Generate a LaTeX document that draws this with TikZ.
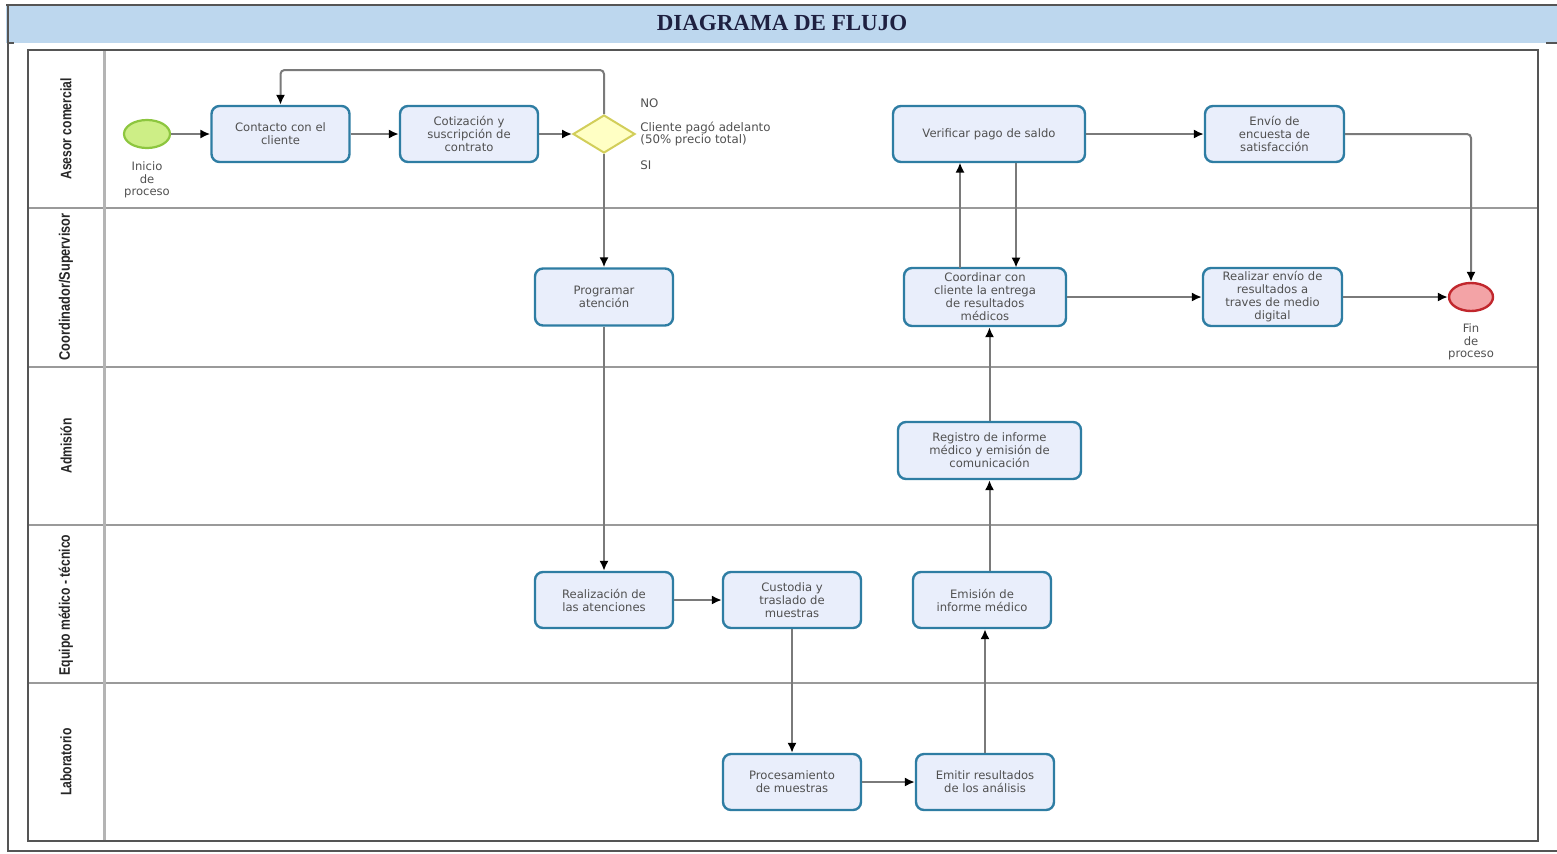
\documentclass[tikz,border=0pt]{standalone}
\usepackage{fontspec}
\usepackage{graphicx}
\setmainfont{DejaVu Sans}
\newfontfamily\titlefont{Liberation Serif}
\newfontfamily\lanefont{Liberation Sans}
\usetikzlibrary{shapes.geometric,arrows.meta,calc}
\definecolor{boxfill}{HTML}{E9EEFB}
\definecolor{boxline}{HTML}{2E7DA3}
\definecolor{bandblue}{HTML}{BDD7EE}
\definecolor{framegray}{HTML}{555555}
\definecolor{lanegray}{HTML}{9A9A9A}
\definecolor{colgray}{HTML}{B4B4B4}
\definecolor{linegray}{HTML}{7A7A7A}
\definecolor{txtgray}{HTML}{505050}
\definecolor{startfill}{HTML}{CDEE86}
\definecolor{startline}{HTML}{8DC63F}
\definecolor{endfill}{HTML}{F3A3A6}
\definecolor{endline}{HTML}{C1272D}
\definecolor{decfill}{HTML}{FFFFC4}
\definecolor{decline}{HTML}{D2CE5A}
\definecolor{titlecol}{HTML}{1E2040}
\begin{document}
\begin{tikzpicture}[x=0.5pt,y=-0.5pt,
  task/.style={draw=boxline, fill=boxfill, line width=1.2pt, rounded corners=4pt,
    minimum width=69pt, minimum height=28pt, inner sep=1pt, align=center,
    text=txtgray, font=\fontsize{5.8}{6.5}\selectfont},
  evlabel/.style={align=center, text=txtgray, font=\fontsize{5.8}{6.3}\selectfont, inner sep=0pt},
  declabel/.style={anchor=west, align=left, text=txtgray, font=\fontsize{5.9}{6.3}\selectfont, inner sep=0pt},
  lanelbl/.style={rotate=90, text=black!85, font=\lanefont\bfseries\fontsize{7.6}{8.5}\selectfont, inner sep=0pt},
  conn/.style={draw=linegray, line width=1pt, rounded corners=2pt,
    -{Latex[length=5pt,width=4.6pt,color=black]}},
  lane/.style={draw=lanegray, line width=0.6pt}
]
\useasboundingbox (0,0) rectangle (1557,853);
% outer frame and title band
\fill[bandblue] (6,6) rectangle (1557,43);
\draw[framegray, line width=1pt] (6,5) -- (1557,5);
\draw[framegray, line width=1.2pt] (8,5) -- (8,851) -- (1557,851);
\draw[framegray, line width=0.8pt] (8,43) -- (14,43);
\draw[framegray, line width=0.8pt] (1546,43) -- (1557,43);
\node[font=\titlefont\bfseries\fontsize{11.5}{13}\selectfont, text=titlecol] (title) at (782,23) {DIAGRAMA DE FLUJO};
% pool
\draw[lane] (28,208) -- (1538,208);
\draw[lane] (28,367) -- (1538,367);
\draw[lane] (28,525) -- (1538,525);
\draw[lane] (28,683) -- (1538,683);
\draw[colgray, line width=1.5pt] (104,50) -- (104,841);
\draw[framegray, line width=1pt] (28,50) rectangle (1538,841);
% lane labels
\node[lanelbl] (l1) at (66,129) {\scalebox{0.8}[1]{Asesor comercial}};
\node[lanelbl] (l2) at (66,287) {\scalebox{0.84}[1]{Coordinador/Supervisor}};
\node[lanelbl] (l3) at (66,446) {\scalebox{0.8}[1]{Admisión}};
\node[lanelbl] (l4) at (66,605) {\scalebox{0.8}[1]{Equipo médico - técnico}};
\node[lanelbl] (l5) at (66,762) {\scalebox{0.8}[1]{Laboratorio}};
% events
\node[ellipse, draw=startline, fill=startfill, line width=1.1pt, minimum width=23pt, minimum height=14pt, inner sep=0pt] (start) at (147,134) {};
\node[evlabel] (startlbl) at (147,180) {Inicio\\de\\proceso};
\node[ellipse, draw=endline, fill=endfill, line width=1.2pt, minimum width=22pt, minimum height=14pt, inner sep=0pt] (fin) at (1471,297) {};
\node[evlabel] (finlbl) at (1471,342) {Fin\\de\\proceso};
% decision
\node[diamond, draw=decline, fill=decfill, line width=1pt, minimum width=31pt, minimum height=19pt, inner sep=0pt] (dec) at (604,134) {};
\node[declabel] (no) at (640,103) {NO};
\node[declabel] (q) at (640,134) {Cliente pagó adelanto\\(50\% precio total)};
\node[declabel] (si) at (640,165) {SI};
% tasks
\node[task] (contacto) at (280.5,134) {Contacto con el\\cliente};
\node[task] (cotiz) at (469,134) {Cotización y\\suscripción de\\contrato};
\node[task, minimum width=96pt] (verificar) at (989,134) {Verificar pago de saldo};
\node[task, minimum width=69.5pt] (envio) at (1274.5,134) {Envío de\\encuesta de\\satisfacción};
\node[task, minimum height=28.5pt] (programar) at (604,297) {Programar\\atención};
\node[task, minimum width=81pt, minimum height=29pt] (coordinar) at (985,297) {Coordinar con\\cliente la entrega\\de resultados\\médicos};
\node[task, minimum width=69.5pt, minimum height=29pt] (realizar) at (1272.5,297) {Realizar envío de\\resultados a\\traves de medio\\digital};
\node[task, minimum width=91.5pt, minimum height=28.5pt] (registro) at (989.5,450.5) {Registro de informe\\médico y emisión de\\comunicación};
\node[task] (realizacion) at (604,600) {Realización de\\las atenciones};
\node[task] (custodia) at (792,600) {Custodia y\\traslado de\\muestras};
\node[task] (emision) at (982,600) {Emisión de\\informe médico};
\node[task] (procesamiento) at (792,782) {Procesamiento\\de muestras};
\node[task] (emitir) at (985,782) {Emitir resultados\\de los análisis};
% loop coordinates
\coordinate (loopR) at (604,70);
\coordinate (loopL) at (280.5,70);
\coordinate (upA) at (960,162.6);
\coordinate (upB) at (960,267.6);
\coordinate (dnA) at (1016,162.6);
\coordinate (dnB) at (1016,267.6);
% connectors
\draw[conn] (start) -- (contacto);
\draw[conn] (contacto) -- (cotiz);
\draw[conn] (cotiz) -- (dec);
\draw[conn] (dec.north) -- (loopR) -- (loopL) -- (contacto.north);
\draw[conn] (dec.south) -- (programar.north);
\draw[conn] (programar.south) -- (realizacion.north);
\draw[conn] (realizacion) -- (custodia);
\draw[conn] (custodia.south) -- (procesamiento.north);
\draw[conn] (procesamiento) -- (emitir);
\draw[conn] (emitir.north) -- (emitir.north |- emision.south);
\draw[conn] (registro.south |- emision.north) -- (registro.south);
\draw[conn] (registro.north) -- (registro.north |- coordinar.south);
\draw[conn] (upB) -- (upA);
\draw[conn] (dnA) -- (dnB);
\draw[conn] (verificar) -- (envio);
\draw[conn] (envio.east) -| (fin.north);
\draw[conn] (coordinar) -- (realizar);
\draw[conn] (realizar) -- (fin);
\end{tikzpicture}
\end{document}
